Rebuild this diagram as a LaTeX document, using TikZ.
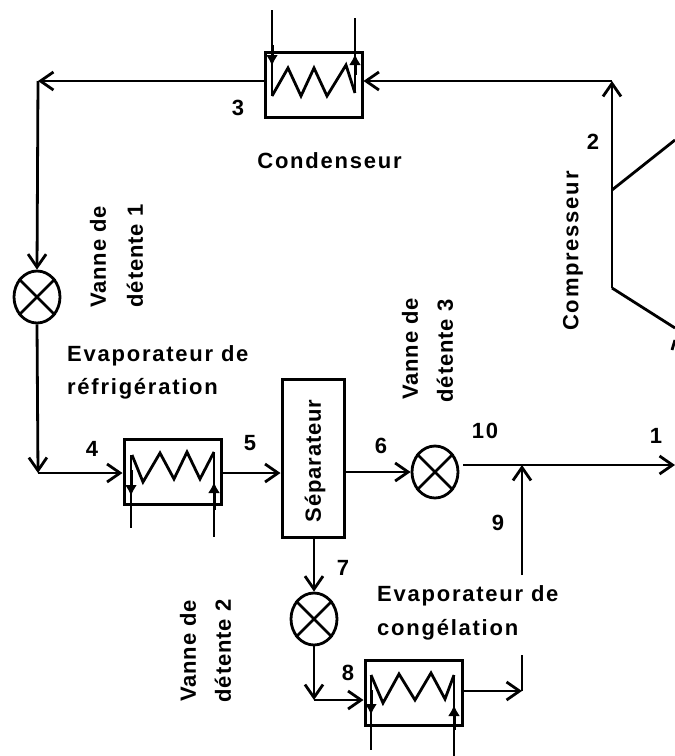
\documentclass[tikz,border=0pt]{standalone}
\usepackage{fontspec}
\setmainfont{Liberation Sans}[BoldFont={Liberation Sans Bold}]
\newfontfamily\lab{Liberation Sans Bold}[LetterSpace=8]
\newfontfamily\labv{Liberation Sans Bold}[LetterSpace=4]
\usetikzlibrary{arrows.meta,shapes.geometric,calc}
\tikzset{
  x=1pt,y=-1pt,
  pipe/.style={line width=2.8pt,-{Straight Barb[length=13pt,width=18pt,line width=2.8pt]}},
  plain/.style={line width=2.8pt},
  hx/.style={draw,line width=3pt,rectangle,minimum width=97pt,minimum height=65pt,inner sep=0pt},
  sep/.style={draw,line width=3pt,rectangle,minimum width=62pt,minimum height=158pt,inner sep=0pt},
  valve/.style={draw,line width=2.8pt,ellipse,minimum width=46pt,minimum height=52pt,inner sep=0pt},
  coil/.style={line width=2.8pt,line join=miter},
  flow/.style={line width=3pt,-{Latex[length=11pt,width=12pt]}},
  txt/.style={inner sep=0pt,font=\lab\fontsize{22}{22}\selectfont,text=black},
  txtv/.style={inner sep=0pt,font=\labv\fontsize{22}{22}\selectfont,rotate=90,align=center},
  num/.style={inner sep=0pt,font=\lab\fontsize{22}{22}\selectfont},
}
\newcommand{\vcross}[1]{\draw[line width=2.8pt] (#1.45)--(#1.225) (#1.135)--(#1.315);}
\begin{document}
\begin{tikzpicture}
\useasboundingbox (0,0) rectangle (675,756);
% equipment
\node[hx] (cond) at (313.5,84.5) {};
\node[hx] (evr) at (172.5,471.5) {};
\node[hx] (evc) at (413.5,693) {};
\node[sep] (sepa) at (313,458) {};
\node[valve] (v1) at (37,297) {};
\node[valve] (v2) at (435,472) {};
\node[valve] (v3) at (314,619) {};
\vcross{v1}\vcross{v2}\vcross{v3}
% coils
\draw[coil] (272,96)--(288,68)--(301,96)--(314,68)--(327,96)--(346,65)--(355,93);
\draw[coil] (132,455)--(143,482)--(160,453)--(174,479)--(187,452)--(200,479)--(214,452);
\draw[coil] (371,675)--(383,703)--(399,674)--(415,700)--(431,673)--(445,699)--(454,675);
% secondary circuits
\draw[plain] (272,10)--(272,96); \draw[flow] (272,45)--(272,66);
\draw[plain] (355,18)--(355,93); \draw[flow] (355,75)--(355,54);
\draw[plain] (131,455)--(131,528); \draw[flow] (131,470)--(131,496);
\draw[plain] (214,452)--(214,537); \draw[flow] (214,510)--(214,482);
\draw[plain] (371,675)--(371,750); \draw[flow] (371,690)--(371,715);
\draw[plain] (454,675)--(454,756); \draw[flow] (454,730)--(454,705);
% main loop
\coordinate (c2) at (612,81);
\coordinate (c1) at (38,81);
\coordinate (c4) at (38,473);
\coordinate (c9a) at (522,691);
\coordinate (c9b) at (522,655);
\coordinate (c9c) at (522,575);
\coordinate (c9d) at (522,465);
\coordinate (c8) at (314,700);
\draw[pipe] (c2)--(cond.east|-c2);
\draw[pipe] (cond.west|-c1)--(c1);
\draw[pipe] (c1)--(v1.north);
\draw[pipe] (v1.south)--(c4);
\draw[pipe] (c4)--(evr.west|-c4);
\draw[pipe] (evr.east|-c4)--(sepa.west|-c4);
\draw[pipe] (sepa.east|-v2)--(v2.west);
\draw[pipe] (sepa.south-|v3)--(v3.north);
\draw[pipe] (v3.south)--(c8);
\draw[pipe] (c8)--(evc.west|-c8);
\draw[pipe] (evc.east|-c9a)--(c9a);
\draw[plain] (c9a)--(c9b);
\draw[pipe] (c9c)--(c9d);
\coordinate (c10) at (463,465);
\coordinate (c1r) at (675,465);
\draw[pipe] (c10)--(c1r);
% compressor
\coordinate (k1) at (612,190);
\coordinate (k2) at (612,288);
\draw[pipe] (k2)--(c2);
\draw[plain] (k1)--(675,140);
\draw[plain] (k2)--(675,328);
\draw[plain] (672,350)--(675,340);
% labels
\node[num] (n3) at (238,108) {3};
\node[num] (n2) at (593,142) {2};
\node[num] (n4) at (92,449) {4};
\node[num] (n5) at (250,443) {5};
\node[num] (n6) at (381,446) {6};
\node[num] (n10) at (485,431) {10};
\node[num] (n1) at (656,436) {1};
\node[num] (n9) at (498,523) {9};
\node[num] (n7) at (343,568) {7};
\node[num] (n8) at (348,673) {8};
\node[txt] (tc) at (329.5,161) {Condenseur};
\node[txt,rotate=90] (tk) at (573,251) {Compresseur};
\node[txtv] (ts) at (315,461) {Séparateur};
\node[txtv] (tv1a) at (98,257) {Vanne de};
\node[txtv] (tv1b) at (135,256) {détente 1};
\node[txtv] (tv3a) at (410,349) {Vanne de};
\node[txtv] (tv3b) at (445,351) {détente 3};
\node[txtv] (tv2a) at (188,651) {Vanne de};
\node[txtv] (tv2b) at (223,651) {détente 2};
\node[txt,anchor=west] (te1) at (67,356) {Evaporateur de};
\node[txt,anchor=west] (te2) at (67,389) {réfrigération};
\node[txt,anchor=west] (te3) at (377,596) {Evaporateur de};
\node[txt,anchor=west] (te4) at (377,630) {congélation};
\end{tikzpicture}
\end{document}
